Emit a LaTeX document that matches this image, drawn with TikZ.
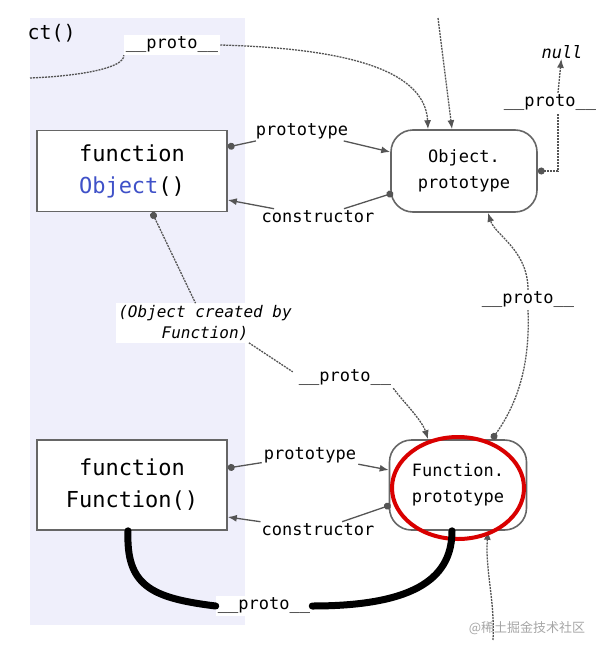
\documentclass[tikz,border=0pt]{standalone}
\usepackage{fontspec}
\setmonofont{DejaVu Sans Mono}
\newfontfamily\cjk{Noto Sans CJK SC}
\usetikzlibrary{arrows.meta}
\definecolor{lavender}{HTML}{EFEFFB}
\definecolor{objblue}{HTML}{3F51C8}
\definecolor{linegray}{HTML}{555555}

\begin{document}
\begin{tikzpicture}[x=1pt,y=-1pt,
    fnbox/.style={draw=gray!80!black, line width=1.6pt, fill=white, minimum width=190pt,
      align=center, font=\fontsize{22}{32}\selectfont\ttfamily},
    protobox/.style={draw=gray!80!black, line width=1.6pt, rounded corners=22pt, fill=white,
      align=center, font=\fontsize{17}{26}\selectfont\ttfamily},
    lbl/.style={fill=white, inner sep=2pt, font=\fontsize{17}{19}\selectfont\ttfamily},
    link/.style={linegray, line width=1.3pt, dash pattern=on 2pt off 1pt},
    solidlink/.style={linegray, line width=1.3pt},
    tip/.style={-{Latex[length=9pt,width=7pt]}},
    dotonly/.style={{Circle[length=7pt]}-}]
  \useasboundingbox (0,0) rectangle (600,653);

  % Achtergrond van de constructorkolom
  \fill[lavender] (30,18) rectangle (245,625);
  \node[anchor=west, font=\fontsize{20}{22}\selectfont\ttfamily] (cut) at (24,33) {ct()};

  % De vier hoofdobjecten
  \node[fnbox, minimum height=81pt] (objfn) at (132,171) {function\\\textcolor{objblue}{Object}()};
  \node[protobox, minimum width=146pt, minimum height=82pt] (objproto) at (464,171) {Object.\\prototype};
  \node[fnbox, minimum height=90pt] (fnfn) at (132,485) {function\\Function()};
  \node[protobox, minimum width=137pt, minimum height=90pt] (fnproto) at (458,485) {Function.\\prototype};

  % Labels op de verbindingen
  \node[lbl] (lblTop) at (172,45) {\_\_proto\_\_};
  \node[lbl] (lblNull) at (550,103) {\_\_proto\_\_};
  \node[lbl, inner sep=0pt, fill=none] (null) at (562,52) {\textit{null}};
  \node[lbl] (lblPa) at (302,131) {prototype};
  \node[lbl] (lblCa) at (318,217) {constructor};
  \node[lbl, font=\fontsize{16}{21}\selectfont\ttfamily\itshape, align=center] (lblMade) at (205,323) {(Object created by\\Function)};
  \node[lbl] (lblMid) at (345,378) {\_\_proto\_\_};
  \node[lbl] (lblRight) at (528,300) {\_\_proto\_\_};
  \node[lbl] (lblPb) at (310,455) {prototype};
  \node[lbl] (lblCb) at (318,530) {constructor};
  \node[lbl] (lblBot) at (264,606) {\_\_proto\_\_};

  \coordinate (leftin) at (30,78);
  \coordinate (topin) at (438,18);
  \coordinate (botin) at (493,640);

  % Stippellijnen: __proto__ ketens
  \draw[link] (leftin) .. controls (80,76) and (125,68) .. (lblTop.south west);
  \draw[link, tip] (lblTop.east) .. controls (330,48) and (425,65) .. ([xshift=-36pt]objproto.north);
  \draw[link, tip] (topin) -- ([xshift=-12pt]objproto.north);
  \draw[link, dotonly] (objproto.east) -| ([xshift=8pt]lblNull.south);
  \draw[link, tip] ([xshift=8pt]lblNull.north) -- (null);
  \draw[link, dotonly] ([xshift=20pt]objfn.south) -- (lblMade);
  \draw[link] ([xshift=-45pt]lblMade.south east) -- ([xshift=-4pt,yshift=-4pt]lblMid.north west);
  \draw[link, tip] (lblMid.south east) .. controls (400,398) and (422,420) .. ([xshift=-30pt]fnproto.north);
  \draw[link, dotonly] ([xshift=34pt]fnproto.north) .. controls (520,400) and (530,360) .. (lblRight.south);
  \draw[link, tip] (lblRight.north) .. controls (528,250) and (495,235) .. ([xshift=24pt]objproto.south);
  \draw[link, tip] (botin) .. controls (495,600) and (485,570) .. ([xshift=30pt]fnproto.south);

  % prototype / constructor paren
  \draw[solidlink, dotonly] ([yshift=24pt]objfn.east) -- (lblPa);
  \draw[solidlink, tip] (lblPa) -- ([yshift=19pt]objproto.west);
  \draw[solidlink, dotonly] ([xshift=3pt,yshift=-22pt]objproto.west) -- (lblCa);
  \draw[solidlink, tip] (lblCa) -- ([yshift=-29pt]objfn.east);
  \draw[solidlink, dotonly] ([yshift=17pt]fnfn.east) -- (lblPb);
  \draw[solidlink, tip] (lblPb) -- ([yshift=15pt]fnproto.west);
  \draw[solidlink, dotonly] ([xshift=2pt,yshift=-20pt]fnproto.west) -- (lblCb);
  \draw[solidlink, tip] (lblCb) -- ([yshift=-32pt]fnfn.east);

  % Handgetekende markering
  \draw[red!85!black, line width=4pt] (458,488) ellipse (66 and 51);
  \draw[line width=7pt, line cap=round] ([xshift=-4pt]fnfn.south) .. controls (126,585) and (150,598) .. (lblBot.west);
  \draw[line width=7pt, line cap=round] (lblBot.east) .. controls (420,606) and (452,575) .. ([xshift=-6pt]fnproto.south);

  \node[text=gray!70, font=\fontsize{13}{15}\selectfont\cjk] (mark) at (527,628) {@稀土掘金技术社区};
\end{tikzpicture}
\end{document}
